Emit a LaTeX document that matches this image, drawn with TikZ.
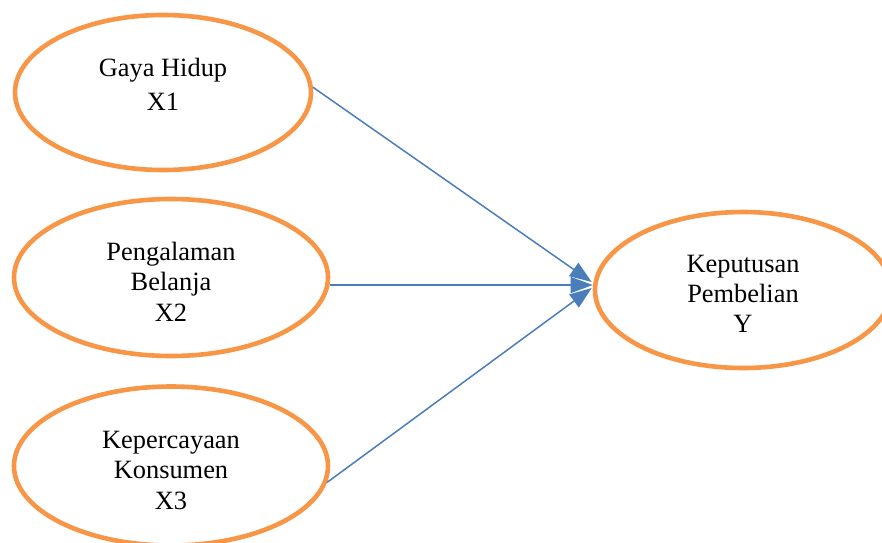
\documentclass[tikz,border=0pt]{standalone}
\usepackage{fontspec}
\setmainfont{Liberation Serif}
\usetikzlibrary{shapes.geometric,arrows.meta,calc}
\definecolor{ovalorange}{HTML}{F79646}
\definecolor{arrowblue}{HTML}{4A7EBB}
\newcommand{\ovaltext}[2]{\fontsize{26.4}{#1}\selectfont\begin{tabular}[t]{@{}c@{}}#2\end{tabular}}
\begin{document}
\begin{tikzpicture}[x=1pt,y=-1pt,
  oval/.style={ellipse,draw=ovalorange,line width=4.6pt,fill=white,inner sep=0pt},
  lbl/.style={anchor=base,inner sep=0pt,text=black},
  conn/.style={draw=arrowblue,line width=1.5pt,-{Triangle[length=22pt,width=16pt]}}]
\useasboundingbox (0,0) rectangle (882,542);
% ovals
\node[oval,minimum width=296pt,minimum height=155pt] (x1) at (163,92.5) {};
\node[oval,minimum width=314pt,minimum height=157pt] (x2) at (171,277.5) {};
\node[oval,minimum width=314pt,minimum height=159pt] (x3) at (171,466) {};
\node[oval,minimum width=296pt,minimum height=156pt] (yy) at (743,290) {};
% labels
\node[lbl] (t1) at (163,76) {\ovaltext{34}{Gaya Hidup\\X1}};
\node[lbl] (t2) at (171,260) {\ovaltext{30.5}{Pengalaman\\Belanja\\X2}};
\node[lbl] (t3) at (171,448) {\ovaltext{30.5}{Kepercayaan\\Konsumen\\X3}};
\node[lbl] (t4) at (743,272) {\ovaltext{30}{Keputusan\\Pembelian\\Y}};
% connectors
\coordinate (tipa) at ($(yy.west)+(-1,-8)$);
\coordinate (tipb) at ($(yy.west)+(0,-5)$);
\coordinate (tipc) at ($(yy.west)+(-1,-2)$);
\draw[conn] (x1.2) -- (tipa);
\draw[conn] (x2.east |- tipb) -- (tipb);
\draw[conn] (x3.-6) -- (tipc);
\end{tikzpicture}
\end{document}
